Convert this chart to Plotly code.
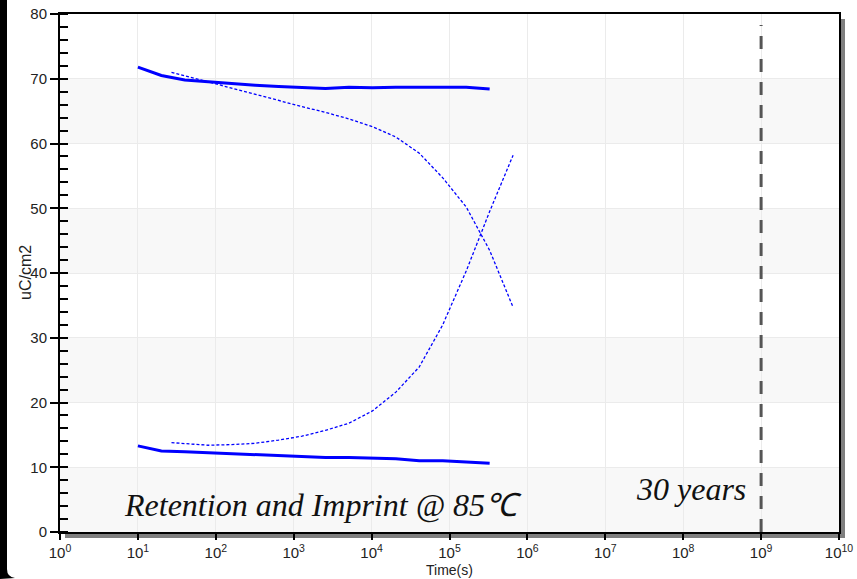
import plotly.graph_objects as go

# ---- data ----
t_solid = [10, 20, 40, 80, 160, 320, 640, 1280, 2560, 5120, 10240, 20480,
           40960, 81920, 163840, 327680]
upper_solid = [71.8, 70.5, 69.8, 69.5, 69.2, 69.0, 68.8, 68.7, 68.5, 68.7,
               68.6, 68.7, 68.7, 68.7, 68.7, 68.4]
lower_solid = [13.3, 12.5, 12.4, 12.25, 12.15, 11.95, 11.85, 11.75, 11.5,
               11.5, 11.4, 11.3, 11.0, 11.0, 10.8, 10.6]

t_dashed = [27, 80, 160, 320, 640, 1280, 2560, 5120, 10240, 20480, 40960,
            81920, 163840, 327680, 655360]
dec_dashed = [71.0, 69.5, 68.5, 67.6, 66.6, 65.7, 64.8, 63.8, 62.6, 61.0,
              58.5, 54.7, 50.2, 43.5, 34.7]
inc_dashed = [13.8, 13.4, 13.5, 13.7, 14.2, 14.8, 15.7, 16.8, 18.7, 21.6,
              25.5, 32.0, 40.3, 49.5, 58.2]

marker_30y_x = [1e9, 1e9]
marker_30y_y = [0, 78.3]

x_tick_exps = list(range(0, 11))
x_tick_vals = [10 ** e for e in x_tick_exps]
x_tick_text = ["10<sup>%d</sup>" % e for e in x_tick_exps]
y_tick_vals = [0, 10, 20, 30, 40, 50, 60, 70, 80]
shaded_bands = [(0, 10), (20, 30), (40, 50), (60, 70)]

title_text = "Retention and Imprint @ 85\u2103"
years_text = "30 years"

# ---- geometry helpers (pixel -> paper) ----
L, R, T, B = 60, 839, 14, 532
W, H = 857, 579
def px(x):
    return (x - L) / (R - L)
def py(y):
    return (B - y) / (B - T)

BLUE = "#0000ff"
SERIF = "Liberation Serif, Times New Roman, Times, serif"
fig = go.Figure()

fig.add_trace(go.Scatter(x=t_solid, y=upper_solid, mode="lines",
                         line=dict(color=BLUE, width=3), showlegend=False))
fig.add_trace(go.Scatter(x=t_solid, y=lower_solid, mode="lines",
                         line=dict(color=BLUE, width=3), showlegend=False))
fig.add_trace(go.Scatter(x=t_dashed, y=dec_dashed, mode="lines",
                         line=dict(color=BLUE, width=1.3, dash="3px,2px"),
                         showlegend=False))
fig.add_trace(go.Scatter(x=t_dashed, y=inc_dashed, mode="lines",
                         line=dict(color=BLUE, width=1.3, dash="3px,2px"),
                         showlegend=False))
fig.add_trace(go.Scatter(x=marker_30y_x, y=marker_30y_y, mode="lines",
                         line=dict(color="#555555", width=3, dash="13px,10px"),
                         showlegend=False))

shapes = []
for y0, y1 in shaded_bands:
    shapes.append(dict(type="rect", xref="paper", yref="y", x0=0, x1=1,
                       y0=y0, y1=y1, fillcolor="#f8f8f8", line=dict(width=0),
                       layer="below"))
# drop shadow right & bottom
shapes.append(dict(type="rect", xref="paper", yref="paper",
                   x0=px(839), x1=px(845), y0=py(538), y1=py(19),
                   fillcolor="#7f7f7f", line=dict(width=0), layer="below"))
shapes.append(dict(type="rect", xref="paper", yref="paper",
                   x0=px(65), x1=px(845), y0=py(538), y1=py(532),
                   fillcolor="#7f7f7f", line=dict(width=0), layer="below"))
# dark frame on the left edge
shapes.append(dict(type="rect", xref="paper", yref="paper",
                   x0=px(0), x1=px(7), y0=py(570), y1=py(0),
                   fillcolor="#000000", line=dict(width=0), layer="above"))
path = "M %f,%f L %f,%f Q %f,%f %f,%f L %f,%f Z" % (
    px(0), py(569), px(7), py(569),
    px(7), py(577), px(15), py(578), px(0), py(579))
shapes.append(dict(type="path", xref="paper", yref="paper", path=path,
                   fillcolor="#000000", line=dict(width=0), layer="above"))

annotations = [
    dict(text="<i>" + title_text + "</i>", xref="paper", yref="paper",
         x=px(323), y=py(505), showarrow=False, xanchor="center",
         yanchor="middle",
         font=dict(family=SERIF, size=32, color="#111111")),
    dict(text="<i>" + years_text + "</i>", xref="paper", yref="paper",
         x=px(691), y=py(489), showarrow=False, xanchor="center",
         yanchor="middle",
         font=dict(family=SERIF, size=32, color="#111111")),
    dict(text="uC/cm2", xref="paper", yref="paper", x=px(25), y=py(273),
         showarrow=False, xanchor="center", yanchor="middle", textangle=-90,
         font=dict(family="Liberation Sans", size=16, color="#222222")),
    dict(text="Time(s)", xref="paper", yref="paper", x=px(449), y=py(570),
         showarrow=False, xanchor="center", yanchor="middle",
         font=dict(family="Liberation Sans", size=14, color="#222222")),
]

fig.update_layout(
    width=W, height=H,
    margin=dict(l=L, r=W - R, t=T, b=H - B, pad=0, autoexpand=False),
    paper_bgcolor="white", plot_bgcolor="white",
    shapes=shapes, annotations=annotations,
    font=dict(family="Liberation Sans", size=15, color="#222222"),
)
fig.update_xaxes(
    type="log", range=[0, 10], tickvals=x_tick_vals, ticktext=x_tick_text,
    ticks="outside", ticklen=6, tickwidth=1.5, tickcolor="black",
    showline=True, linecolor="black", linewidth=2, mirror=True,
    showgrid=True, gridcolor="#ebebeb", gridwidth=1, zeroline=False,
    automargin=False, tickfont=dict(size=15),
)
fig.update_yaxes(
    range=[0, 80], tickvals=y_tick_vals,
    ticks="outside", ticklen=8, tickwidth=1.5, tickcolor="black",
    minor=dict(dtick=2, ticks="inside", ticklen=8, tickwidth=1.5,
               tickcolor="black", showgrid=False),
    showline=True, linecolor="black", linewidth=2, mirror=True,
    showgrid=True, gridcolor="#ebebeb", gridwidth=1, zeroline=False,
    automargin=False, tickfont=dict(size=15),
)

fig.write_html(
    "out.html",
    config={"displayModeBar": False},
    post_script="document.body.style.margin='0';"
                "document.body.style.overflow='hidden';",
)
